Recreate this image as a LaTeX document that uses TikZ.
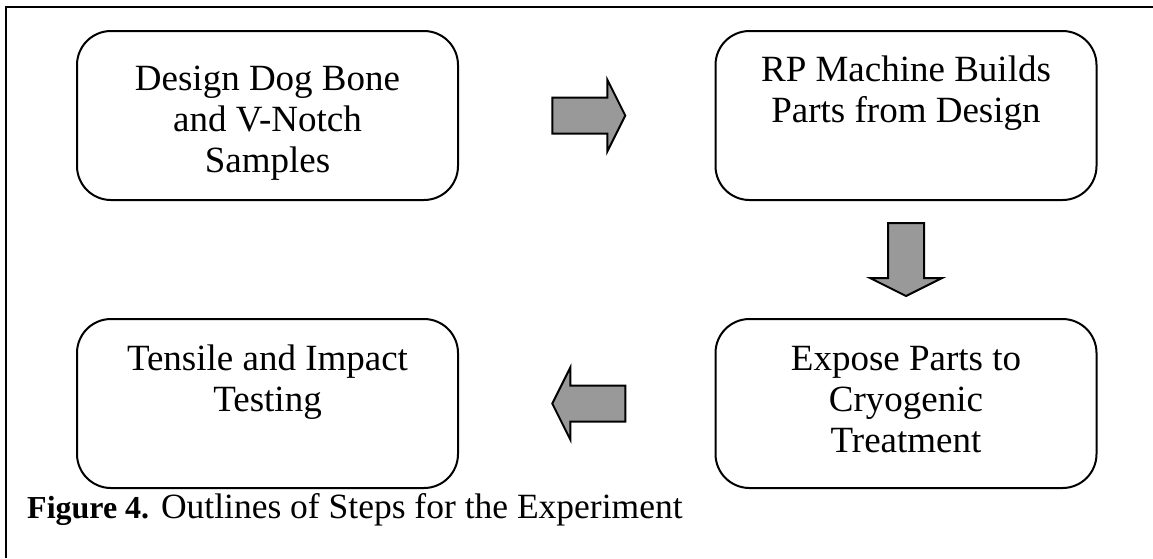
\documentclass[tikz,border=0pt]{standalone}
\usepackage{fontspec}
\setmainfont{Liberation Serif}
\usetikzlibrary{positioning,calc}
\definecolor{arrowgray}{RGB}{153,153,153}

\begin{document}
\begin{tikzpicture}[x=1pt, y=-1pt,
    stepbox/.style={draw, line width=2pt, rounded corners=34pt,
        minimum width=381pt, minimum height=169pt, inner sep=0pt},
    steptext/.style={align=center, inner sep=0pt,
        font=\fontsize{37}{41}\selectfont},
    blockarrow/.pic={
        \draw[line width=2pt, fill=arrowgray, miter limit=10]
            (-36.5,-18) -- (18.5,-18) -- (18.5,-36) -- (36.5,0)
            -- (18.5,36) -- (18.5,18) -- (-36.5,18) -- cycle;
    }]
    \useasboundingbox (0,0) rectangle (1153,558);

    % Frame
    \draw[line width=2pt] (6,558) -- (6,7) -- (1153,7);

    % Steps
    \node[stepbox] (design) at (267.5,115.5) {};
    \node[stepbox] (build) at (906,115.5) {};
    \node[stepbox] (expose) at (906,403.5) {};
    \node[stepbox] (testing) at (267.5,403.5) {};

    \node[steptext, below=36pt of design.north] (designtext)
        {Design Dog Bone\\and V-Notch\\Samples};
    \node[steptext, below=26pt of build.north] (buildtext)
        {RP Machine Builds\\Parts from Design};
    \node[steptext, below=28pt of expose.north] (exposetext)
        {Expose Parts to\\Cryogenic\\Treatment};
    \node[steptext, below=27pt of testing.north] (testingtext)
        {Tensile and Impact\\Testing};

    % Block arrows between the steps
    \pic at ($(design.east)!0.5!(build.west)+(2,0)$) {blockarrow};
    \pic[rotate=-90] at ($(build.south)!0.5!(expose.north)$) {blockarrow};
    \pic[rotate=180] at ($(testing.east)!0.5!(expose.west)+(2,0)$) {blockarrow};

    % Caption
    \node[anchor=base west, inner sep=0pt, font=\fontsize{35.5}{38}\selectfont]
        (caption) at (27,518)
        {{\fontsize{32}{35}\selectfont\bfseries Figure 4.} Outlines of Steps for the Experiment};
\end{tikzpicture}
\end{document}
